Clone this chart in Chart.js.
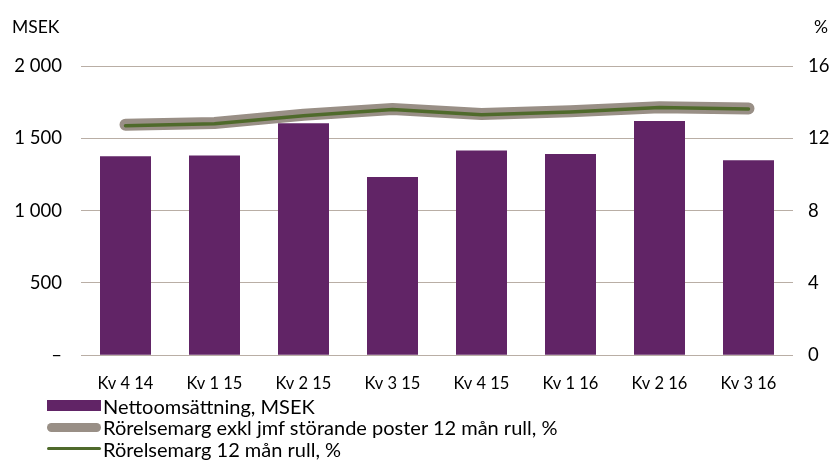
<!DOCTYPE html>
<html>
<head>
<meta charset="utf-8">
<script src="https://cdn.jsdelivr.net/npm/chart.js@4/dist/chart.umd.min.js"></script>
<style>
  body { margin: 0; background: #fff; }
  #wrap { position: relative; width: 833px; height: 460px; }
  #legend { position: absolute; left: 47px; top: 395px; font-family: Lato, sans-serif; font-size: 20px; color: #000; }
  .item { display: flex; align-items: center; height: 21.5px; white-space: nowrap; }
  .swatch { width: 54px; margin-right: 2px; }
</style>
</head>
<body>
<div id="wrap">
  <canvas id="c" width="833" height="460"></canvas>
  <div id="legend"></div>
</div>
<script>
const categories = ["Kv 4 14", "Kv 1 15", "Kv 2 15", "Kv 3 15", "Kv 4 15", "Kv 1 16", "Kv 2 16", "Kv 3 16"];
const nettoomsattning = [1376, 1381, 1604, 1233, 1415, 1392, 1620, 1348];
const marginalExkl = [12.75, 12.85, 13.3, 13.62, 13.35, 13.5, 13.72, 13.65];
const marginal = [12.7, 12.8, 13.25, 13.6, 13.3, 13.45, 13.7, 13.62];
const leftTickLabels = ["–", "500", "1 000", "1 500", "2 000"];
const rightTickLabels = ["0", "4", "8", "12", "16"];

const PURPLE = "#612466";
const GRAY = "#998f86";
const GREEN = "#4f6a2b";
const GRID = "#b9aea5";
const FONT = "Lato, sans-serif";

// axis unit labels above the axes
const unitLabels = {
  id: "unitLabels",
  afterDraw: (chart) => {
    const ctx = chart.ctx;
    ctx.save();
    ctx.font = "17.5px " + FONT;
    ctx.fillStyle = "#000";
    ctx.textBaseline = "middle";
    ctx.textAlign = "left";
    ctx.fillText("MSEK", 12, 27);
    ctx.fillText("%", 814, 27);
    ctx.restore();
  },
};

const chart = new Chart(document.getElementById("c"), {
  data: {
    labels: categories,
    datasets: [
      {
        type: "bar",
        label: "Nettoomsättning, MSEK",
        data: nettoomsattning,
        backgroundColor: PURPLE,
        yAxisID: "y",
        order: 3,
        barPercentage: 0.573,
        categoryPercentage: 1,
      },
      {
        type: "line",
        label: "Rörelsemarg exkl jmf störande poster 12 mån rull, %",
        data: marginalExkl,
        borderColor: GRAY,
        borderWidth: 12,
        borderCapStyle: "round",
        borderJoinStyle: "round",
        pointRadius: 0,
        tension: 0,
        yAxisID: "y1",
        order: 2,
      },
      {
        type: "line",
        label: "Rörelsemarg 12 mån rull, %",
        data: marginal,
        borderColor: GREEN,
        borderWidth: 3.5,
        borderCapStyle: "round",
        borderJoinStyle: "round",
        pointRadius: 0,
        tension: 0,
        yAxisID: "y1",
        order: 1,
      },
    ],
  },
  options: {
    responsive: false,
    animation: false,
    devicePixelRatio: 1,
    layout: { padding: { top: 66, bottom: 56, left: 0, right: 0 } },
    plugins: { legend: { display: false }, tooltip: { enabled: false } },
    scales: {
      x: {
        grid: { display: false },
        border: { display: false },
        ticks: { font: { family: FONT, size: 16.5 }, color: "#000", padding: 10.5, maxRotation: 0 },
      },
      y: {
        position: "left",
        min: 0,
        max: 2000,
        afterFit: (scale) => { scale.width = 81; },
        grid: { color: GRID, lineWidth: 1, drawTicks: false },
        border: { display: false },
        ticks: {
          stepSize: 500,
          padding: 19,
          color: "#000",
          font: { family: FONT, size: 18.5 },
          callback: (val, i) => leftTickLabels[i],
        },
      },
      y1: {
        position: "right",
        min: 0,
        max: 16,
        afterFit: (scale) => { scale.width = 40; },
        grid: { drawOnChartArea: false, drawTicks: false },
        border: { display: false },
        ticks: {
          stepSize: 4,
          padding: 15,
          color: "#000",
          font: { family: FONT, size: 18.5 },
          callback: (val, i) => rightTickLabels[i],
        },
      },
    },
  },
  plugins: [unitLabels],
});

// legend stacked vertically under the plot
const legend = document.getElementById("legend");
chart.data.datasets.forEach((ds, i) => {
  const item = document.createElement("div");
  item.className = "item";
  const sw = document.createElement("div");
  sw.className = "swatch";
  if (ds.type === "bar") {
    sw.style.height = "11px";
    sw.style.background = ds.backgroundColor;
  } else {
    const h = i === 1 ? 9 : 3;
    sw.style.height = h + "px";
    sw.style.borderRadius = h / 2 + "px";
    sw.style.background = ds.borderColor;
  }
  const txt = document.createElement("span");
  txt.textContent = ds.label;
  item.appendChild(sw);
  item.appendChild(txt);
  legend.appendChild(item);
});
</script>
</body>
</html>
